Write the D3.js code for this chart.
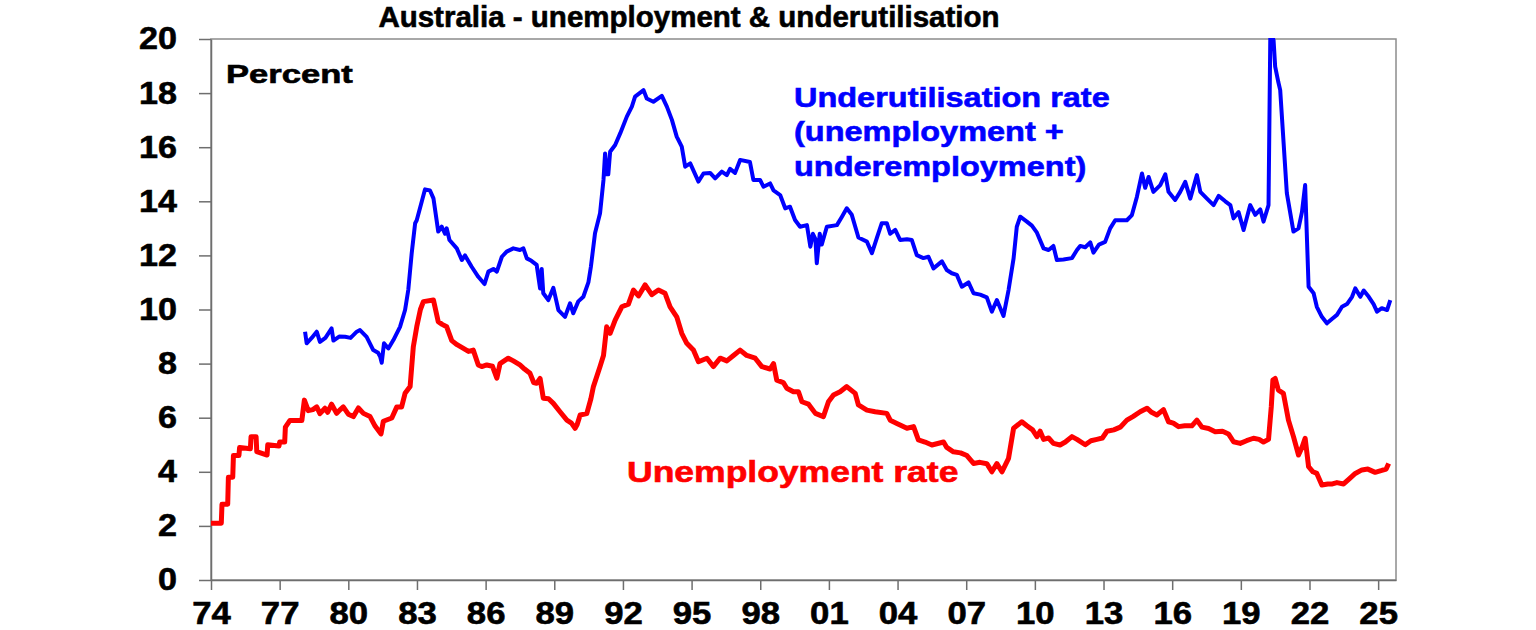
<!DOCTYPE html>
<html>
<head>
<meta charset="utf-8">
<script src="https://cdn.jsdelivr.net/npm/d3@7"></script>
<style>
  html, body { margin: 0; padding: 0; background: #fff; }
  svg text { font-family: "Liberation Sans", Arial, sans-serif; font-weight: bold; }
</style>
</head>
<body>
<div id="chart"></div>
<script>
// Unemployment rate (%)
const unempYears = [1974.00,1974.45,1974.48,1974.73,1974.76,1974.95,1974.98,1975.22,1975.25,1975.72,1975.75,1975.97,1976.00,1976.45,1976.48,1976.97,1977.00,1977.22,1977.25,1977.45,1977.97,1978.08,1978.25,1978.45,1978.62,1978.76,1978.98,1979.10,1979.27,1979.49,1979.65,1979.78,1980.00,1980.22,1980.44,1980.66,1980.95,1981.17,1981.43,1981.53,1981.90,1982.12,1982.33,1982.48,1982.70,1982.84,1982.99,1983.15,1983.28,1983.72,1983.93,1984.10,1984.30,1984.52,1984.75,1985.03,1985.25,1985.46,1985.68,1985.83,1986.05,1986.30,1986.49,1986.63,1986.99,1987.21,1987.50,1987.70,1987.94,1988.10,1988.23,1988.38,1988.52,1988.75,1988.96,1989.25,1989.55,1989.75,1989.91,1990.00,1990.13,1990.42,1990.60,1990.71,1991.00,1991.15,1991.29,1991.44,1991.66,1991.95,1992.24,1992.46,1992.68,1992.97,1993.26,1993.55,1993.84,1994.06,1994.35,1994.57,1994.79,1995.08,1995.30,1995.67,1995.95,1996.25,1996.54,1996.83,1997.12,1997.41,1997.78,1998.07,1998.43,1998.58,1998.72,1999.01,1999.16,1999.45,1999.67,1999.82,2000.11,2000.41,2000.76,2000.98,2001.20,2001.49,2001.78,2002.15,2002.29,2002.66,2003.02,2003.53,2003.68,2003.97,2004.41,2004.70,2004.91,2005.20,2005.50,2006.01,2006.15,2006.44,2006.75,2007.03,2007.32,2007.60,2007.90,2008.12,2008.34,2008.56,2008.85,2009.07,2009.43,2009.65,2009.90,2010.09,2010.23,2010.38,2010.60,2010.81,2011.10,2011.33,2011.62,2011.84,2012.20,2012.45,2012.71,2012.95,2013.15,2013.45,2013.73,2014.02,2014.30,2014.60,2014.90,2015.10,2015.33,2015.62,2015.84,2016.05,2016.28,2016.55,2016.86,2017.08,2017.30,2017.59,2017.88,2018.20,2018.46,2018.68,2018.97,2019.25,2019.55,2019.80,2019.99,2020.21,2020.33,2020.40,2020.50,2020.64,2020.86,2021.08,2021.30,2021.52,2021.67,2021.81,2021.96,2022.15,2022.32,2022.54,2022.80,2023.00,2023.20,2023.49,2023.75,2024.00,2024.29,2024.55,2024.87,2025.16,2025.35,2025.46];
const unempRate = [2.1,2.1,2.8,2.8,3.8,3.8,4.6,4.6,4.9,4.85,5.3,5.3,4.75,4.62,5.0,4.95,5.1,5.1,5.65,5.9,5.9,6.65,6.26,6.3,6.4,6.15,6.35,6.2,6.5,6.16,6.3,6.4,6.13,6.04,6.36,6.16,6.04,5.69,5.4,5.87,5.99,6.4,6.4,6.9,7.15,8.62,9.36,10.0,10.29,10.35,9.55,9.45,9.36,8.85,8.7,8.56,8.45,8.5,7.95,7.89,7.95,7.9,7.46,8.0,8.2,8.1,7.95,7.8,7.64,7.3,7.27,7.45,6.72,6.7,6.53,6.22,5.91,5.8,5.61,5.75,6.1,6.15,6.7,7.15,7.89,8.3,9.36,9.12,9.61,10.1,10.2,10.72,10.5,10.91,10.55,10.72,10.6,10.1,9.73,9.12,8.75,8.5,8.07,8.2,7.89,8.2,8.1,8.3,8.5,8.3,8.2,7.89,7.8,8.0,7.39,7.3,7.09,6.96,6.96,6.59,6.5,6.16,6.04,6.59,6.84,6.96,7.15,6.9,6.47,6.28,6.22,6.16,5.91,5.79,5.61,5.67,5.18,5.1,4.99,5.1,4.9,4.74,4.7,4.6,4.31,4.35,4.3,4.0,4.3,4.0,4.5,5.61,5.85,5.7,5.55,5.3,5.5,5.2,5.25,5.05,4.99,5.1,5.3,5.2,5.0,5.15,5.2,5.25,5.5,5.55,5.65,5.91,6.05,6.22,6.35,6.2,6.1,6.3,5.85,5.8,5.67,5.7,5.7,5.91,5.65,5.6,5.48,5.5,5.4,5.11,5.05,5.15,5.24,5.2,5.1,5.2,6.4,7.39,7.45,7.02,6.9,5.91,5.3,4.62,4.9,5.24,4.19,4.0,3.94,3.51,3.55,3.55,3.6,3.55,3.75,3.94,4.07,4.1,3.98,4.05,4.1,4.31];

// Underutilisation rate (%)
const underYears = [1978.11,1978.18,1978.40,1978.62,1978.76,1979.00,1979.27,1979.35,1979.60,1979.86,1980.10,1980.37,1980.51,1980.80,1981.09,1981.30,1981.39,1981.46,1981.56,1981.75,1981.97,1982.26,1982.48,1982.62,1982.77,1982.92,1982.99,1983.21,1983.35,1983.57,1983.72,1983.93,1984.08,1984.23,1984.30,1984.42,1984.74,1984.96,1985.10,1985.39,1985.68,1985.95,1986.12,1986.34,1986.49,1986.71,1986.92,1987.21,1987.50,1987.65,1987.80,1988.00,1988.23,1988.38,1988.45,1988.52,1988.74,1988.96,1989.18,1989.47,1989.69,1989.83,1990.05,1990.27,1990.49,1990.60,1990.78,1991.00,1991.15,1991.22,1991.29,1991.36,1991.44,1991.66,1991.88,1992.17,1992.39,1992.53,1992.90,1993.04,1993.33,1993.70,1993.92,1994.14,1994.35,1994.57,1994.72,1994.94,1995.30,1995.52,1995.81,1996.03,1996.32,1996.54,1996.68,1996.90,1997.12,1997.55,1997.70,1997.99,1998.14,1998.43,1998.58,1998.87,1999.09,1999.30,1999.52,1999.74,2000.04,2000.19,2000.30,2000.41,2000.47,2000.60,2000.69,2000.91,2001.35,2001.57,2001.78,2002.00,2002.29,2002.66,2002.88,2003.10,2003.31,2003.53,2003.68,2003.90,2004.11,2004.41,2004.62,2004.84,2005.13,2005.35,2005.57,2005.94,2006.15,2006.37,2006.59,2006.81,2007.10,2007.32,2007.61,2007.90,2008.12,2008.34,2008.63,2008.85,2009.07,2009.21,2009.36,2009.65,2009.87,2010.09,2010.38,2010.60,2010.81,2010.96,2011.25,2011.62,2011.84,2011.98,2012.20,2012.42,2012.56,2012.80,2013.07,2013.29,2013.51,2013.75,2014.02,2014.24,2014.46,2014.68,2014.82,2014.97,2015.18,2015.48,2015.70,2015.84,2016.13,2016.35,2016.57,2016.79,2017.08,2017.23,2017.52,2017.81,2018.03,2018.32,2018.54,2018.68,2018.90,2019.12,2019.41,2019.63,2019.85,2019.99,2020.21,2020.29,2020.43,2020.50,2020.64,2020.72,2021.01,2021.30,2021.52,2021.67,2021.81,2021.96,2022.18,2022.32,2022.54,2022.76,2022.98,2023.20,2023.42,2023.64,2023.86,2024.00,2024.22,2024.37,2024.59,2024.80,2024.95,2025.16,2025.39,2025.53];
const underRate = [9.18,8.75,8.95,9.18,8.8,8.95,9.3,8.85,9.0,8.99,8.95,9.18,9.24,8.99,8.5,8.4,8.26,8.03,8.75,8.56,8.87,9.36,9.98,10.72,12.08,13.19,13.3,13.99,14.44,14.4,14.11,12.88,13.06,12.8,13.0,12.57,12.26,11.83,12.0,11.58,11.21,10.94,11.4,11.5,11.4,11.95,12.14,12.26,12.2,12.26,11.89,11.8,11.65,10.78,11.5,10.6,10.35,10.8,9.98,9.73,10.23,9.86,10.3,10.47,11.0,11.58,12.82,13.56,14.79,15.77,15.0,15.0,15.83,16.08,16.51,17.13,17.5,17.87,18.11,17.8,17.68,17.9,17.5,17.01,16.39,16.02,15.28,15.4,14.73,15.03,15.05,14.85,15.1,14.97,15.2,15.05,15.53,15.45,14.79,14.79,14.54,14.66,14.4,14.23,13.74,13.8,13.31,13.06,13.12,12.32,12.8,12.6,11.71,12.8,12.4,13.06,13.12,13.43,13.74,13.5,12.66,12.51,12.08,12.66,13.19,13.19,12.8,12.94,12.57,12.6,12.57,12.01,11.9,11.95,11.52,11.78,11.46,11.34,11.28,10.84,11.0,10.6,10.55,10.45,9.92,10.35,9.76,10.72,11.89,13.06,13.43,13.25,13.1,12.84,12.26,12.2,12.35,11.83,11.85,11.9,12.2,12.35,12.3,12.48,12.1,12.4,12.5,13.0,13.3,13.3,13.3,13.49,14.17,15.03,14.5,14.9,14.35,14.6,15.0,14.35,14.05,14.35,14.72,14.1,14.97,14.35,14.1,13.86,14.2,14.0,13.86,13.37,13.6,12.94,13.86,13.5,13.7,13.25,13.86,20.3,19.96,18.98,18.4,18.11,14.3,12.88,13.0,13.6,14.6,10.84,10.6,10.1,9.73,9.49,9.65,9.8,10.1,10.2,10.47,10.78,10.47,10.7,10.47,10.2,9.92,10.05,9.98,10.35];

const xTickYears = [1974,1977,1980,1983,1986,1989,1992,1995,1998,2001,2004,2007,2010,2013,2016,2019,2022,2025];
const xTickLabels = ["74","77","80","83","86","89","92","95","98","01","04","07","10","13","16","19","22","25"];
const yTicks = [0,2,4,6,8,10,12,14,16,18,20];

const width = 1536, height = 630;
const margin = { top: 39, right: 140, bottom: 50, left: 211 };

const svg = d3.select("#chart").append("svg")
  .attr("width", width)
  .attr("height", height);

const x = d3.scaleLinear()
  .domain([1974, 2025.78])
  .range([margin.left, width - margin.right]);

const y = d3.scaleLinear()
  .domain([0, 20])
  .range([height - margin.bottom, margin.top]);

// plot frame
svg.append("rect")
  .attr("x", x(1974)).attr("y", y(20))
  .attr("width", x(2025.78) - x(1974))
  .attr("height", y(0) - y(20))
  .attr("fill", "none")
  .attr("stroke", "#8c8c8c")
  .attr("stroke-width", 1.5);

svg.append("clipPath").attr("id", "plot-clip")
  .append("rect")
  .attr("x", x(1974)).attr("y", y(20) - 1)
  .attr("width", x(2025.78) - x(1974))
  .attr("height", y(0) - y(20) + 1);

// axes
const yAxis = svg.append("g")
  .attr("transform", `translate(${margin.left},0)`)
  .call(d3.axisLeft(y).tickValues(yTicks).tickSize(12).tickSizeOuter(0).tickPadding(22));

const xAxis = svg.append("g")
  .attr("transform", `translate(0,${height - margin.bottom})`)
  .call(d3.axisBottom(x).tickValues(xTickYears)
    .tickFormat((d, i) => xTickLabels[i])
    .tickSize(10).tickSizeOuter(0).tickPadding(12));

[yAxis, xAxis].forEach(ax => {
  ax.select(".domain").attr("stroke", "#6e6e6e").attr("stroke-width", 1.5);
  ax.selectAll(".tick line").attr("stroke", "#6e6e6e").attr("stroke-width", 1.5);
});

// widen the tick label glyphs a little, like the original
yAxis.selectAll(".tick text")
  .attr("fill", "#000")
  .style("font-size", "31px")
  .attr("stroke", "#000").attr("stroke-width", 0.6)
  .attr("transform", function () {
    const tx = +d3.select(this).attr("x");
    return `translate(${tx},0) scale(1.1,1) translate(${-tx},0)`;
  });

xAxis.selectAll(".tick text")
  .attr("fill", "#000")
  .style("font-size", "31px")
  .attr("stroke", "#000").attr("stroke-width", 0.6)
  .attr("transform", "scale(1.12,1)");

// series lines
const lineGen = d3.line()
  .x(d => x(d[0]))
  .y(d => y(d[1]));

const underData = underYears.map((yr, i) => [yr, underRate[i]]);
const unempData = unempYears.map((yr, i) => [yr, unempRate[i]]);

const plot = svg.append("g").attr("clip-path", "url(#plot-clip)");

plot.append("path")
  .datum(underData)
  .attr("fill", "none")
  .attr("stroke", "#0000ff")
  .attr("stroke-width", 4)
  .attr("stroke-linejoin", "round")
  .attr("d", lineGen);

plot.append("path")
  .datum(unempData)
  .attr("fill", "none")
  .attr("stroke", "#ff0000")
  .attr("stroke-width", 5)
  .attr("stroke-linejoin", "round")
  .attr("d", lineGen);

// text labels, stretched horizontally to the reference widths
function label(xPos, yPos, size, sx, color, lines, lineGap) {
  const t = svg.append("text")
    .attr("transform", `translate(${xPos},${yPos}) scale(${sx},1)`)
    .attr("fill", color)
    .attr("stroke", color)
    .attr("stroke-width", 0.6)
    .style("font-size", size + "px");
  lines.forEach((s, i) => {
    t.append("tspan").attr("x", 0).attr("dy", i === 0 ? 0 : lineGap).text(s);
  });
  return t;
}

svg.append("text")
  .attr("x", 689).attr("y", 27)
  .attr("text-anchor", "middle")
  .attr("stroke", "#000").attr("stroke-width", 0.6)
  .style("font-size", "29.5px")
  .text("Australia - unemployment & underutilisation");

label(226, 83, 26, 1.33, "#000", ["Percent"], 0);
label(794, 107, 28, 1.16, "#0000ff",
  ["Underutilisation rate", "(unemployment +", "underemployment)"], 34.5);
label(627, 482, 29, 1.225, "#ff0000", ["Unemployment rate"], 0);
</script>
</body>
</html>
